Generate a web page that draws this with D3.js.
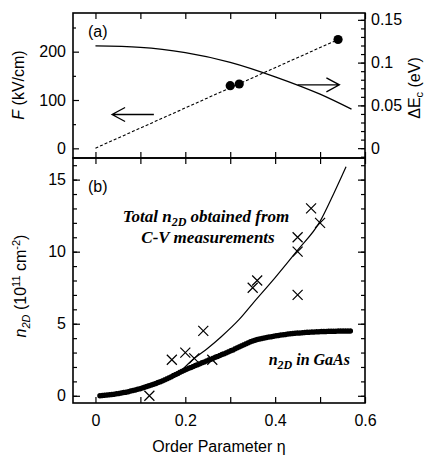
<!DOCTYPE html>
<html>
<head>
<meta charset="utf-8">
<script src="https://cdn.jsdelivr.net/npm/d3@7"></script>
<style>
  body { margin: 0; background: #fff; }
  text { font-family: "Liberation Sans", Arial, sans-serif; }
  .note { font-family: "Liberation Serif", "Times New Roman", serif; font-style: italic; font-weight: bold; }
</style>
</head>
<body>
<div id="chart"></div>
<script>
// panel (a): field F (left axis) and band offset dEc (right axis)
const fEta = [0, 0.1, 0.2, 0.3, 0.4, 0.5, 0.57];
const fVal = [212, 209, 198, 178, 148, 112, 81];
const ecEta = [0.30, 0.32, 0.54];
const ecVal = [0.073, 0.075, 0.127];
const ecLineEta = [0, 0.54];
const ecLineVal = [0, 0.127];

// panel (b): n2D
const cvEta = [0.12, 0.17, 0.20, 0.22, 0.24, 0.26, 0.35, 0.36, 0.45, 0.45, 0.45, 0.48, 0.50];
const cvVal = [0, 2.5, 3.0, 2.6, 4.5, 2.5, 7.5, 8.0, 11, 10, 7, 13, 12];
const totEta = [0.19, 0.22, 0.25, 0.28, 0.32, 0.35, 0.40, 0.45, 0.50, 0.53, 0.558];
const totVal = [1.7, 2.6, 3.3, 4.1, 5.3, 6.4, 8.2, 10.1, 12.1, 14.0, 15.9];
const gaEta = [0.01, 0.05, 0.1, 0.15, 0.2, 0.25, 0.3, 0.35, 0.4, 0.45, 0.5, 0.57];
const gaVal = [0, 0.15, 0.5, 1.05, 1.8, 2.45, 3.1, 3.8, 4.15, 4.35, 4.45, 4.5];

const xTicks = [0, 0.2, 0.4, 0.6];
const fTicks = [0, 100, 200];
const ecTicks = [0, 0.05, 0.1, 0.15];
const nTicks = [0, 5, 10, 15];

const W = 428, H = 457;
const L = 73, R = 365, T = 13, MID = 158, B = 403;

const svg = d3.select("#chart").append("svg")
  .attr("width", W).attr("height", H);

const x = d3.scaleLinear().domain([-0.05, 0.6]).range([L, R]);
const yF = d3.scaleLinear().domain([-20, 280]).range([MID, T]);
const yE = d3.scaleLinear().domain([-0.0115, 0.158]).range([MID, T]);
const yN = d3.scaleLinear().domain([-0.5, 16.5]).range([B, MID]);

const fmtE = d => d === 0 ? "0" : d3.format("~g")(d);

function tickAxis(axis, transform, size, values, labels) {
  const g = svg.append("g").attr("transform", transform)
    .call(axis.tickValues(values).tickSize(size).tickSizeOuter(0));
  if (!labels) g.selectAll("text").remove();
  g.select(".domain").remove();
  g.selectAll("line").attr("stroke", "#000").attr("stroke-width", 1.2);
  return g;
}

// x ticks, all four horizontal edges
const xMinor = d3.range(0, 0.65, 0.1);
tickAxis(d3.axisBottom(x), `translate(0,${B})`, -6, xMinor, false);
tickAxis(d3.axisTop(x), `translate(0,${MID})`, -6, xMinor, false);
tickAxis(d3.axisBottom(x), `translate(0,${MID})`, -6, xMinor, false);
tickAxis(d3.axisTop(x), `translate(0,${T})`, -6, xMinor, false);

const xl = tickAxis(d3.axisBottom(x).tickFormat(d3.format("~g")).tickPadding(12), `translate(0,${B})`, 0, xTicks, true);
xl.selectAll("text").attr("font-size", 16).attr("fill", "#000");

// panel (a) left
tickAxis(d3.axisLeft(yF), `translate(${L},0)`, -6, [0, 100, 200], false);
tickAxis(d3.axisLeft(yF), `translate(${L},0)`, -3, [50, 150, 250], false);
const fl = tickAxis(d3.axisLeft(yF).tickPadding(7), `translate(${L},0)`, 0, fTicks, true);
fl.selectAll("text").attr("font-size", 16).attr("fill", "#000");

// panel (a) right
tickAxis(d3.axisRight(yE), `translate(${R},0)`, -7, ecTicks, false);
tickAxis(d3.axisRight(yE), `translate(${R},0)`, -4, d3.range(-0.01, 0.16, 0.01), false);
const el = tickAxis(d3.axisRight(yE).tickFormat(fmtE).tickPadding(6), `translate(${R},0)`, 0, ecTicks, true);
el.selectAll("text").attr("font-size", 16).attr("fill", "#000");

// panel (b) left/right
const nMinor = d3.range(0, 17, 1);
tickAxis(d3.axisLeft(yN), `translate(${L},0)`, -4, nMinor, false);
tickAxis(d3.axisLeft(yN), `translate(${L},0)`, -7, nTicks, false);
tickAxis(d3.axisRight(yN), `translate(${R},0)`, -4, nMinor, false);
tickAxis(d3.axisRight(yN), `translate(${R},0)`, -7, nTicks, false);
const nl = tickAxis(d3.axisLeft(yN).tickPadding(7), `translate(${L},0)`, 0, nTicks, true);
nl.selectAll("text").attr("font-size", 16).attr("fill", "#000");

// frames
svg.append("rect").attr("x", L).attr("y", T).attr("width", R - L).attr("height", MID - T)
  .attr("fill", "none").attr("stroke", "#000").attr("stroke-width", 1.6);
svg.append("rect").attr("x", L).attr("y", MID).attr("width", R - L).attr("height", B - MID)
  .attr("fill", "none").attr("stroke", "#000").attr("stroke-width", 1.6);

// panel (a) data
const lineF = d3.line().x((d, i) => x(fEta[i])).y(d => yF(d)).curve(d3.curveMonotoneX);
svg.append("path").attr("d", lineF(fVal)).attr("fill", "none")
  .attr("stroke", "#000").attr("stroke-width", 1.3);

const lineE = d3.line().x((d, i) => x(ecLineEta[i])).y(d => yE(d));
svg.append("path").attr("d", lineE(ecLineVal)).attr("fill", "none")
  .attr("stroke", "#000").attr("stroke-width", 1.1).attr("stroke-dasharray", "3,2");

svg.selectAll(".ec").data(ecVal).enter().append("circle")
  .attr("cx", (d, i) => x(ecEta[i])).attr("cy", d => yE(d)).attr("r", 4.6).attr("fill", "#000");

// arrows
function arrow(x1, x2, yy) {
  const dir = x2 > x1 ? -1 : 1;
  svg.append("path")
    .attr("d", `M${x1},${yy}L${x2},${yy}M${x2 + dir * 13},${yy - 7}L${x2},${yy}L${x2 + dir * 13},${yy + 7}`)
    .attr("fill", "none").attr("stroke", "#000").attr("stroke-width", 1.3);
}
arrow(x(0.13), x(0.037), yF(70));
arrow(x(0.45), x(0.543), yE(0.074));

svg.append("text").attr("x", 88).attr("y", 37).attr("font-size", 16).text("(a)");
svg.append("text").attr("x", 88).attr("y", 192).attr("font-size", 16).text("(b)");

// panel (b) data
const lineG = d3.line().x((d, i) => x(gaEta[i])).y(d => yN(d)).curve(d3.curveMonotoneX);
svg.append("path").attr("d", lineG(gaVal)).attr("fill", "none")
  .attr("stroke", "#000").attr("stroke-width", 5.5)
  .attr("stroke-linecap", "round").attr("stroke-dasharray", "0,2.4");

const lineT = d3.line().x((d, i) => x(totEta[i])).y(d => yN(d)).curve(d3.curveMonotoneX);
svg.append("path").attr("d", lineT(totVal)).attr("fill", "none")
  .attr("stroke", "#000").attr("stroke-width", 1.2);

svg.selectAll(".cv").data(cvVal).enter().append("path")
  .attr("transform", (d, i) => `translate(${x(cvEta[i])},${yN(d)})`)
  .attr("d", "M-5,-5L5,5M-5,5L5,-5")
  .attr("stroke", "#000").attr("stroke-width", 1.2);

// annotations
const n1 = svg.append("text").attr("class", "note").attr("x", 206).attr("y", 222)
  .attr("text-anchor", "middle").attr("font-size", 17);
n1.append("tspan").text("Total n");
n1.append("tspan").attr("font-size", 12).attr("dy", 4).text("2D");
n1.append("tspan").attr("dy", -4).text(" obtained from");
svg.append("text").attr("class", "note").attr("x", 208).attr("y", 243)
  .attr("text-anchor", "middle").attr("font-size", 17).text("C-V measurements");

const n2 = svg.append("text").attr("class", "note").attr("x", 350).attr("y", 365)
  .attr("text-anchor", "end").attr("font-size", 16);
n2.append("tspan").text("n");
n2.append("tspan").attr("font-size", 12).attr("dy", 4).text("2D");
n2.append("tspan").attr("dy", -4).text(" in GaAs");

// axis titles
svg.append("text").attr("x", (L + R) / 2).attr("y", 452).attr("text-anchor", "middle")
  .attr("font-size", 16).text("Order Parameter η");

const fT = svg.append("text").attr("transform", "translate(24,85) rotate(-90)")
  .attr("text-anchor", "middle").attr("font-size", 16);
fT.append("tspan").attr("font-style", "italic").text("F");
fT.append("tspan").text(" (kV/cm)");

const nT = svg.append("text").attr("transform", "translate(26,286) rotate(-90)")
  .attr("text-anchor", "middle").attr("font-size", 16);
nT.append("tspan").attr("font-style", "italic").text("n");
nT.append("tspan").attr("font-style", "italic").attr("font-size", 11).attr("dy", 4).text("2D");
nT.append("tspan").attr("dy", -4).text(" (10");
nT.append("tspan").attr("font-size", 11).attr("dy", -6).text("11");
nT.append("tspan").attr("dy", 6).text(" cm");
nT.append("tspan").attr("font-size", 11).attr("dy", -6).text("-2");
nT.append("tspan").attr("dy", 6).text(")");

const eT = svg.append("text").attr("transform", "translate(420,88) rotate(-90)")
  .attr("text-anchor", "middle").attr("font-size", 16);
eT.append("tspan").text("ΔE");
eT.append("tspan").attr("font-size", 11).attr("dy", 3).text("c");
eT.append("tspan").attr("dy", -3).text(" (eV)");
</script>
</body>
</html>
